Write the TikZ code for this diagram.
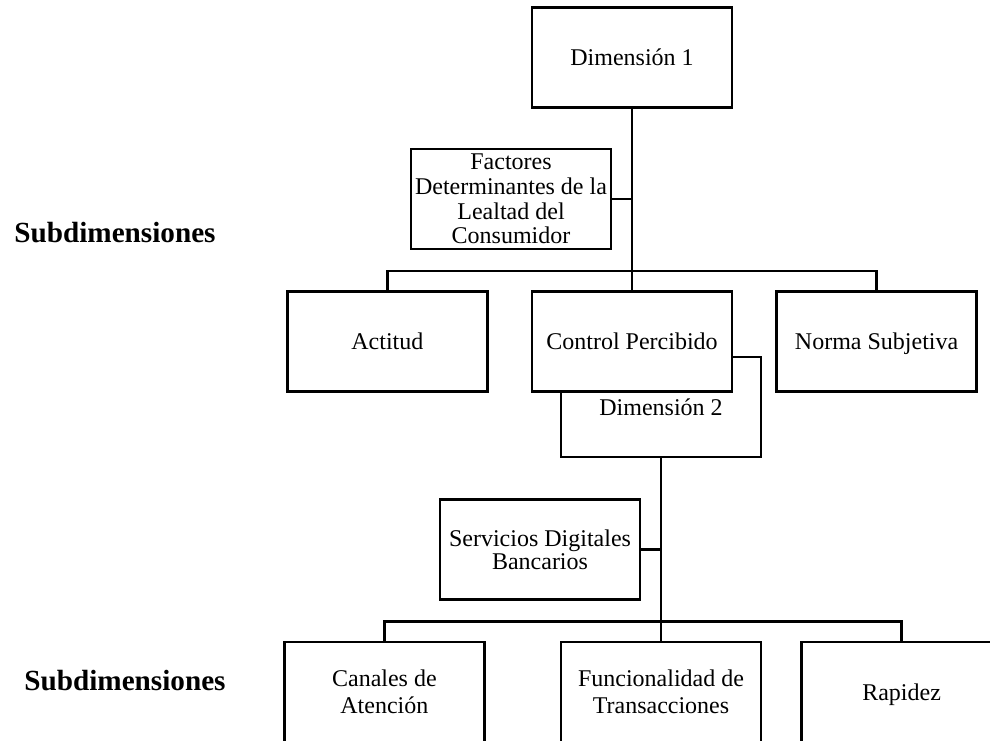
\documentclass[tikz,border=0pt]{standalone}
\usepackage{fontspec}
\setmainfont{Liberation Serif}
\usetikzlibrary{positioning}

\begin{document}
\begin{tikzpicture}[
    x=0.5pt,y=-0.5pt,
    node distance=21pt and 21pt,
    box/.style={draw,fill=white,line width=1.3pt,minimum width=100pt,
                minimum height=50pt,align=center,inner sep=2pt,
                font=\fontsize{12}{12.3}\selectfont},
    single/.style={box,text height=8.3pt,text depth=0pt},
    wide/.style={box,font=\fontsize{12}{13.7}\selectfont},
    lnk/.style={line width=1.3pt},
    lbl/.style={anchor=base,font=\fontsize{14.6}{16}\selectfont\bfseries},
  ]
    \useasboundingbox (0,0) rectangle (990,740);
    \clip (0,0) rectangle (990,740);
    % first level
    \node[single](dim1) at (632,57.5){Dimensión 1};
    \node[box](fact) at (511,199){Factores\\Determinantes de la\\Lealtad del\\Consumidor};
    \node[single](dim2) at (661,407){Dimensión 2};
    \node[single](ctrl) at (632,341.5){Control Percibido};
    \node[single,left=of ctrl](act){Actitud};
    \node[single,right=of ctrl](norma){Norma Subjetiva};
    % second level
    \node[box,font=\fontsize{12}{11.7}\selectfont](serv) at (540,549.5){Servicios Digitales\\Bancarios};
    \node[wide](func) at (661,692){Funcionalidad de\\Transacciones};
    \node[wide,left=37pt of func](canal){Canales de\\Atención};
    \node[single,right=19pt of func](rap){Rapidez};
    % labels
    \node[lbl](sub1) at (115,242.7){Subdimensiones};
    \node[lbl](sub2) at (125,690){Subdimensiones};
    % connectors
    \coordinate (bus1) at (632,271);
    \coordinate (bus2) at (661,621.5);
    \draw[lnk](dim1.south)--(ctrl.north);
    \draw[lnk](fact.east)--(fact.east -| dim1.south);
    \draw[lnk](act.north)|-(bus1)-|(norma.north);
    \draw[lnk](dim2.south)--(func.north);
    \draw[lnk](serv.east)--(serv.east -| dim2.south);
    \draw[lnk](canal.north)|-(bus2)-|(rap.north);
\end{tikzpicture}
\end{document}
